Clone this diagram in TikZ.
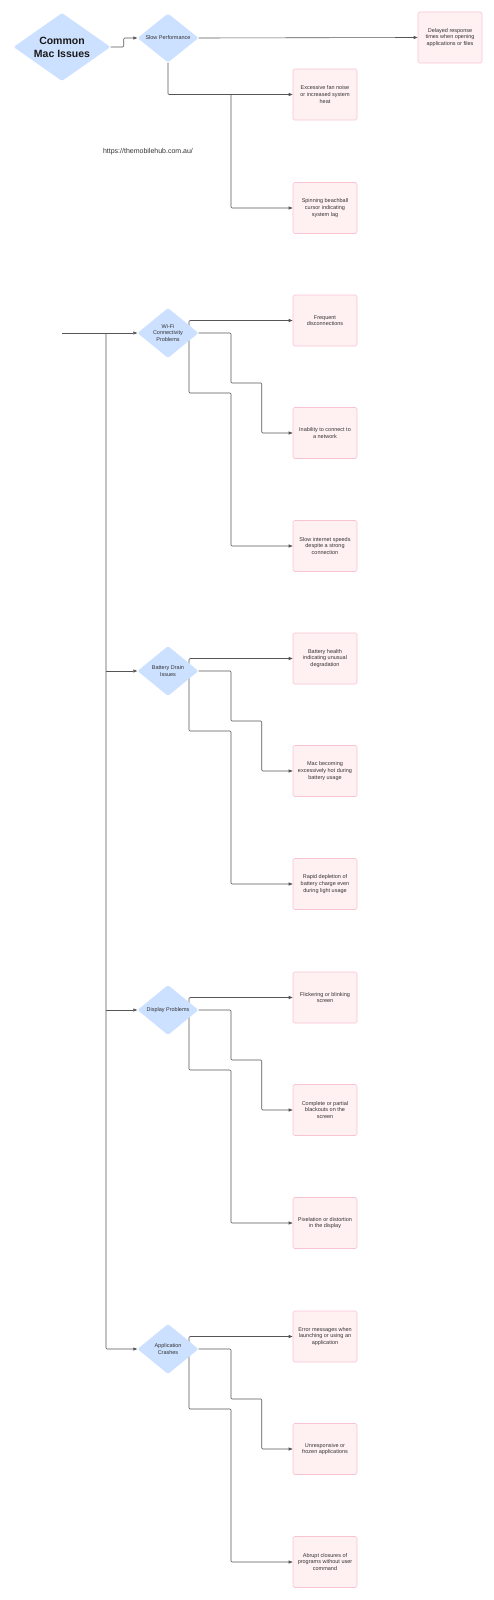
\documentclass[tikz,border=0pt]{standalone}
\usepackage{fontspec}
\setmainfont{Liberation Sans}
\usetikzlibrary{shapes.geometric,arrows.meta,calc,backgrounds}
\definecolor{dfill}{HTML}{CCE0FF}
\definecolor{bfill}{HTML}{FFF0F2}
\definecolor{bdraw}{HTML}{F8C4D4}
\definecolor{txt}{HTML}{333333}
\definecolor{ln}{HTML}{555555}
\tikzset{
 dia/.style={shape=diamond, aspect=1.22, fill=dfill, draw=none, inner sep=0pt, minimum width=61pt, minimum height=50pt, align=center, font=\fontsize{5.5}{6.7}\selectfont, text=txt, rounded corners=1.5pt},
 issue/.style={rectangle, fill=bfill, draw=bdraw, line width=0.6pt, rounded corners=1.5pt, minimum width=64pt, minimum height=51pt, align=center, font=\fontsize{5.5}{6.7}\selectfont, text=txt, inner sep=0pt},
 conn/.style={draw=ln, line width=0.6pt, rounded corners=1pt},
 arr/.style={conn, -{Triangle[length=4pt,width=3pt]}}
}
\newcommand{\issuegroup}[6]{%
 \node[dia] (#1) at (168,#2) {#3};
 \node[issue] (#1a) at (325,{#2-12.5}) {#4};
 \node[issue] (#1b) at (325,{#2+100}) {#5};
 \node[issue] (#1c) at (325,{#2+213}) {#6};
 \begin{scope}[on background layer]
 \draw[arr] ($(#1.center)+(21,0)$) |- (#1a.west);
 \draw[arr] (#1.east) -| ($(#1.center)+(63,50)$) -| ($(#1b.west)+(-31,0)$) -- (#1b.west);
 \draw[arr] ($(#1.center)+(21,0)$) |- ($(#1.center)+(63,60)$) |- (#1c.west);
 \end{scope}
}
\begin{document}
\begin{tikzpicture}[x=1pt,y=-1pt]
\useasboundingbox (0,0) rectangle (494,1600);
\begin{scope}[on background layer]
\fill[white] (0,0) rectangle (494,1600);
\end{scope}
% top part
\node[dia, aspect=1.43, minimum width=97pt, minimum height=68pt, font=\fontsize{10.5}{13}\selectfont\bfseries, text=black!90] (main) at (62,47) {Common\\Mac Issues};
\node[dia, minimum height=49pt] (slow) at (168,38) {Slow Performance};
\node[issue] (s1) at (450,37.5) {Delayed response\\times when opening\\applications or files};
\node[issue] (s2) at (325,94.5) {Excessive fan noise\\or increased system\\heat};
\node[issue] (s3) at (325,208) {Spinning beachball\\cursor indicating\\system lag};
\node[font=\fontsize{7}{8}\selectfont, text=txt] (url) at (148,152) {https://themobilehub.com.au/};
\coordinate (j1) at (231,94.5);
\begin{scope}[on background layer]
\draw[arr] (main.east) -- ++(13,0) |- (slow.west);
\draw[arr] (slow.east) -- (s1.west);
\draw[arr] (slow.south) |- (s2.west);
\draw[arr] (j1) |- (s3.west);
\end{scope}
% groups
\issuegroup{wifi}{333}{Wi-Fi\\Connectivity\\Problems}{Frequent\\disconnections}{Inability to connect to\\a network}{Slow internet speeds\\despite a strong\\connection}
\issuegroup{batt}{671}{Battery Drain\\Issues}{Battery health\\indicating unusual\\degradation}{Mac becoming\\excessively hot during\\battery usage}{Rapid depletion of\\battery charge even\\during light usage}
\issuegroup{disp}{1010}{Display Problems}{Flickering or blinking\\screen}{Complete or partial\\blackouts on the\\screen}{Pixelation or distortion\\in the display}
\issuegroup{app}{1349}{Application\\Crashes}{Error messages when\\launching or using an\\application}{Unresponsive or\\frozen applications}{Abrupt closures of\\programs without user\\command}
% trunk
\coordinate (trunk) at (62,333);
\coordinate (tv) at (106,333);
\begin{scope}[on background layer]
\draw[arr] (trunk) -- (wifi.west);
\draw[arr] (tv) |- (app.west);
\draw[arr] (tv |- batt.west) -- (batt.west);
\draw[arr] (tv |- disp.west) -- (disp.west);
\end{scope}
\end{tikzpicture}
\end{document}
